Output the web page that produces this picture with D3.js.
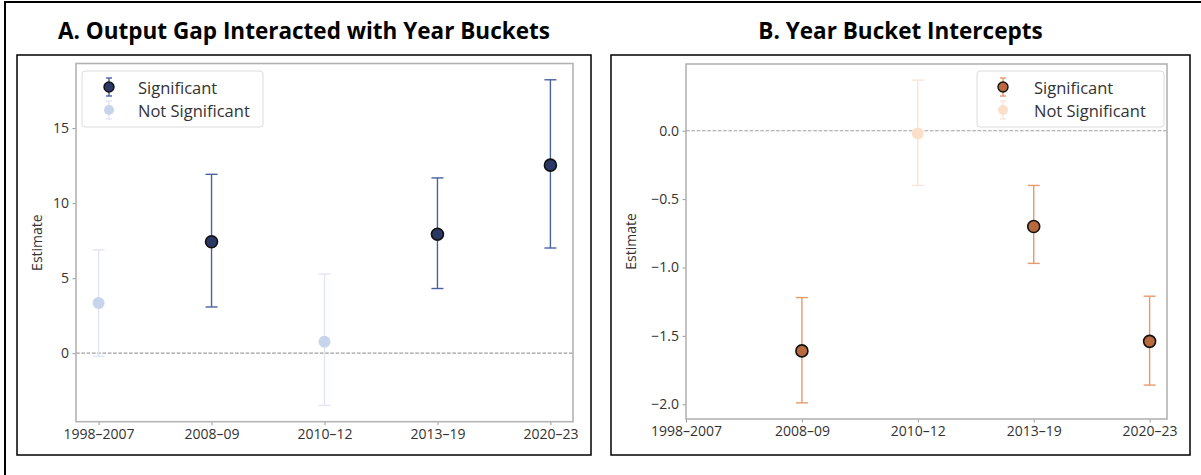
<!DOCTYPE html>
<html>
<head>
<meta charset="utf-8">
<script src="https://cdn.jsdelivr.net/npm/d3@7/dist/d3.min.js"></script>
<style>
  html, body { margin: 0; padding: 0; background: #fff; }
  svg { display: block; font-family: "Open Sans", "Noto Sans", sans-serif; }
</style>
</head>
<body>
<svg id="chart" width="1201" height="475"></svg>
<script>
// Year buckets shared by both panels
const categories = ["1998–2007", "2008–09", "2010–12", "2013–19", "2020–23"];

// Panel A: output-gap coefficient interacted with each year bucket
const gapEstimate = [3.35, 7.43, 0.76, 7.93, 12.53];
const gapLower    = [-0.20, 3.08, -3.48, 4.31, 7.01];
const gapUpper    = [6.88, 11.92, 5.27, 11.68, 18.22];
const gapTicks    = [0, 5, 10, 15];

// Panel B: year-bucket intercepts (1998–2007 is the omitted base bucket)
const interceptEstimate = [null, -1.61, -0.02, -0.70, -1.54];
const interceptLower    = [null, -1.99, -0.40, -0.97, -1.86];
const interceptUpper    = [null, -1.22, 0.37, -0.40, -1.21];
const interceptTicks    = [0, -0.5, -1.0, -1.5, -2.0];

const legendLabels = ["Significant", "Not Significant"];

const svg = d3.select("#chart");

// outer frame
svg.append("rect")
  .attr("x", 5).attr("y", 2).attr("width", 1250).attr("height", 520)
  .attr("fill", "none").attr("stroke", "#000").attr("stroke-width", 2);

function panel(cfg) {
  const g = svg.append("g");

  // panel box and title
  g.append("rect")
    .attr("x", cfg.box[0]).attr("y", cfg.box[1])
    .attr("width", cfg.box[2] - cfg.box[0]).attr("height", cfg.box[3] - cfg.box[1])
    .attr("fill", "#fff").attr("stroke", "#000").attr("stroke-width", 1.5);
  g.append("text")
    .attr("x", (cfg.box[0] + cfg.box[2]) / 2).attr("y", 38.5)
    .attr("text-anchor", "middle")
    .attr("font-size", 22.5).attr("font-weight", 700).attr("fill", "#000")
    .text(cfg.title);

  const rows = categories.map((c, i) => ({
    i, cat: c, est: cfg.est[i], lo: cfg.lo[i], hi: cfg.hi[i]
  })).filter(d => d.est !== null);
  rows.forEach(d => { d.sig = d.lo > 0 || d.hi < 0; });

  // category positions, padded 5% beyond the plotted buckets;
  // in the intercept panel the axis starts at the base bucket
  const idx = d3.extent(rows, d => d.i);
  const xp = (idx[1] - idx[0]) * 0.05;
  const x = d3.scaleLinear()
    .domain([cfg.clampBase ? 0 : idx[0] - xp, idx[1] + xp])
    .range([cfg.plot.left, cfg.plot.right]);

  const ylo = d3.min(rows, d => d.lo), yhi = d3.max(rows, d => d.hi);
  const yp = (yhi - ylo) * 0.05;
  const y = d3.scaleLinear().domain([ylo - yp, yhi + yp])
    .range([cfg.plot.bottom, cfg.plot.top]);

  // zero reference line
  g.append("line")
    .attr("x1", cfg.plot.left).attr("x2", cfg.plot.right)
    .attr("y1", y(0)).attr("y2", y(0))
    .attr("stroke", "#a0a0a0").attr("stroke-width", 1.2)
    .attr("stroke-dasharray", "3.7,1.6");

  // axes
  const xAxis = d3.axisBottom(x)
    .tickValues(categories.map((c, i) => i))
    .tickFormat(i => categories[i])
    .tickSize(3.5).tickPadding(3.5);
  const yAxis = d3.axisLeft(y)
    .tickValues(cfg.ticks)
    .tickFormat(cfg.fmt)
    .tickSize(3.5).tickPadding(3.5);

  const gx = g.append("g").attr("transform", `translate(0,${cfg.plot.bottom})`).call(xAxis);
  const gy = g.append("g").attr("transform", `translate(${cfg.plot.left},0)`).call(yAxis);
  [gx, gy].forEach(a => {
    a.select(".domain").remove();
    a.selectAll(".tick line").attr("stroke", "#9a9a9a").attr("stroke-width", 1);
    a.selectAll(".tick text").attr("fill", "#333").attr("font-size", 14)
      .attr("font-family", "\"Open Sans\", sans-serif");
  });

  // spines
  g.append("rect")
    .attr("x", cfg.plot.left).attr("y", cfg.plot.top)
    .attr("width", cfg.plot.right - cfg.plot.left)
    .attr("height", cfg.plot.bottom - cfg.plot.top)
    .attr("fill", "none").attr("stroke", "#b3b3b3").attr("stroke-width", 1.6);

  // y label
  g.append("text")
    .attr("transform", `translate(${cfg.ylabelX},${(cfg.plot.top + cfg.plot.bottom) / 2}) rotate(-90)`)
    .attr("text-anchor", "middle").attr("dominant-baseline", "central")
    .attr("font-size", 14).attr("fill", "#333")
    .text("Estimate");

  const cap = 6;
  const marks = g.append("g");
  const errStyle = d => d.sig ? cfg.sigBar : cfg.nsBar;

  // whiskers and caps
  marks.selectAll(".bar").data(rows).join("line")
    .attr("x1", d => x(d.i)).attr("x2", d => x(d.i))
    .attr("y1", d => y(d.lo)).attr("y2", d => y(d.hi))
    .attr("stroke", errStyle).attr("stroke-width", 1.4);
  ["lo", "hi"].forEach(k => {
    marks.selectAll(".cap-" + k).data(rows).join("line")
      .attr("x1", d => x(d.i) - cap).attr("x2", d => x(d.i) + cap)
      .attr("y1", d => y(d[k])).attr("y2", d => y(d[k]))
      .attr("stroke", errStyle).attr("stroke-width", 1.4);
  });
  // point estimates
  marks.selectAll("circle").data(rows).join("circle")
    .attr("cx", d => x(d.i)).attr("cy", d => y(d.est))
    .attr("r", 6)
    .attr("fill", d => d.sig ? cfg.sigFill : cfg.nsFill)
    .attr("stroke", d => d.sig ? "#111" : "none")
    .attr("stroke-width", 1.6);

  // legend
  const L = cfg.legend;
  const lg = g.append("g");
  lg.append("rect")
    .attr("x", L.x).attr("y", L.y).attr("width", L.w).attr("height", L.h)
    .attr("rx", 3).attr("fill", "#fff").attr("fill-opacity", 0.85)
    .attr("stroke", "#dcdcdc").attr("stroke-width", 1);
  legendLabels.forEach((lab, k) => {
    const cy = L.y + 16 + k * 23;
    const hx = L.x + L.hx;
    const bar = k === 0 ? cfg.sigBar : cfg.nsBar;
    lg.append("line").attr("x1", hx).attr("x2", hx).attr("y1", cy - 9).attr("y2", cy + 9)
      .attr("stroke", bar).attr("stroke-width", 1.4);
    [cy - 9, cy + 9].forEach(yy => lg.append("line")
      .attr("x1", hx - 3).attr("x2", hx + 3).attr("y1", yy).attr("y2", yy)
      .attr("stroke", bar).attr("stroke-width", 1.4));
    lg.append("circle").attr("cx", hx).attr("cy", cy).attr("r", 5)
      .attr("fill", k === 0 ? cfg.sigFill : cfg.nsFill)
      .attr("stroke", k === 0 ? "#111" : "none").attr("stroke-width", 1.4);
    lg.append("text").attr("x", L.x + L.tx).attr("y", cy)
      .attr("dominant-baseline", "central")
      .attr("font-size", 16.5).attr("fill", "#333").text(lab);
  });
}

panel({
  title: "A. Output Gap Interacted with Year Buckets",
  box: [17, 55, 591, 455],
  plot: { left: 76, right: 573, top: 63.5, bottom: 421.7 },
  est: gapEstimate, lo: gapLower, hi: gapUpper,
  ticks: gapTicks, fmt: d3.format("d"),
  ylabelX: 36,
  sigFill: "#2b3764", sigBar: "#4a62a0",
  nsFill: "#c7d5ec", nsBar: "#dfe6f3",
  legend: { x: 82, y: 71, w: 181, h: 56, hx: 27, tx: 56 },
  clampBase: false
});

panel({
  title: "B. Year Bucket Intercepts",
  box: [611, 55, 1190, 455],
  plot: { left: 686, right: 1167, top: 64, bottom: 419 },
  est: interceptEstimate, lo: interceptLower, hi: interceptUpper,
  ticks: interceptTicks, fmt: d3.format(".1f"),
  ylabelX: 630,
  sigFill: "#b96a3d", sigBar: "#e79a6a",
  nsFill: "#fadfc9", nsBar: "#f8e6d8",
  legend: { x: 977, y: 71, w: 187, h: 56, hx: 26, tx: 57 },
  clampBase: true
});
</script>
</body>
</html>
